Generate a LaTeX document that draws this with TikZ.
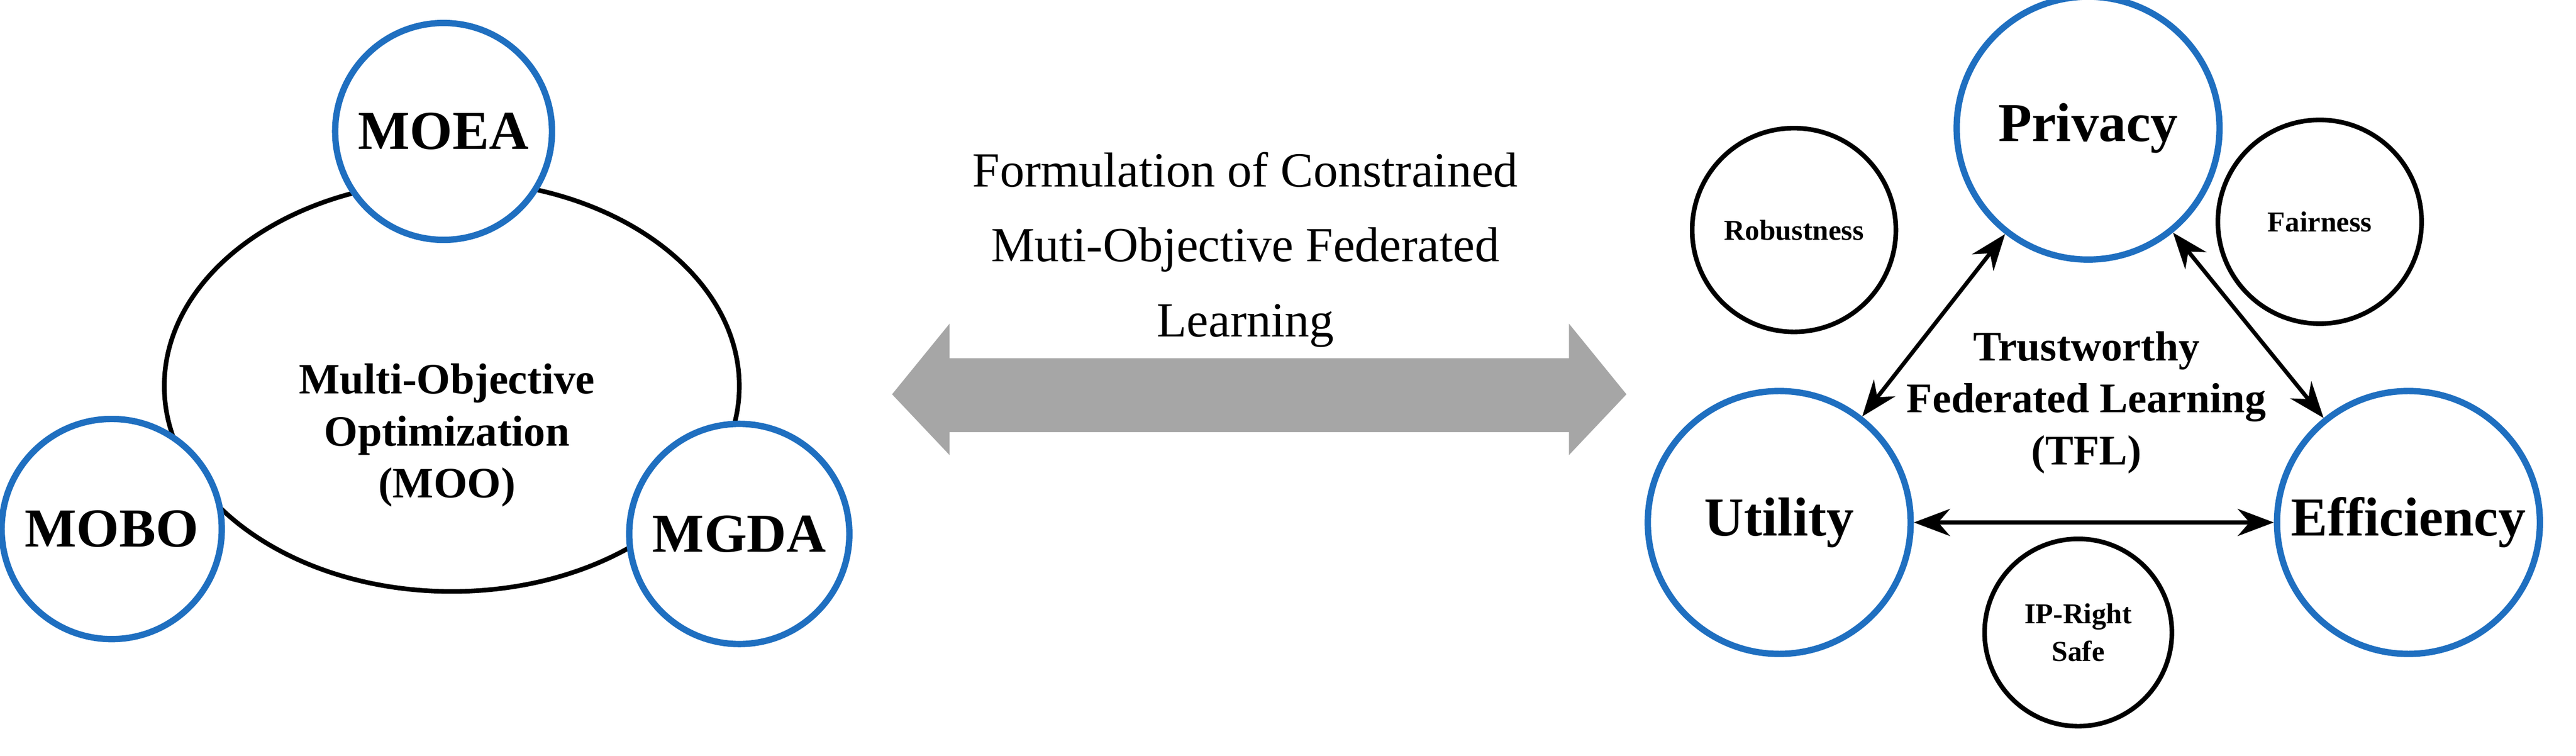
\documentclass[tikz,border=0pt]{standalone}
\usepackage{fontspec}
\setmainfont{Liberation Serif}
\usetikzlibrary{arrows.meta}
\definecolor{ringblue}{HTML}{1F6FC0}
\tikzset{
  bigcirc/.style={circle,draw=ringblue,line width=1.1pt,fill=white,inner sep=0pt,font=\bfseries\fontsize{9.5}{11}\selectfont},
  smallcirc/.style={circle,draw=black,line width=0.8pt,inner sep=0pt,align=center,font=\bfseries\fontsize{5}{6.5}\selectfont},
  link/.style={{Stealth[length=2.2mm]}-{Stealth[length=2.2mm]},line width=0.7pt}
}
\begin{document}
\begin{tikzpicture}
  \useasboundingbox (0,0) rectangle (15.68,4.6);
  % left: MOO
  \draw[line width=0.8pt] (2.75,2.25) ellipse (1.75 and 1.25);
  \node[align=center,font=\bfseries\fontsize{7.5}{9}\selectfont] (moo) at (2.72,1.95) {Multi-Objective\\Optimization\\(MOO)};
  \node[bigcirc,minimum size=1.32cm] (moea) at (2.70,3.80) {MOEA};
  \node[bigcirc,minimum size=1.34cm] (mobo) at (0.68,1.38) {MOBO};
  \node[bigcirc,minimum size=1.34cm] (mgda) at (4.50,1.35) {MGDA};
  % middle arrow
  \fill[black!35] (5.43,2.20) -- (5.78,2.63) -- (5.78,2.42) -- (9.55,2.42) -- (9.55,2.63)
    -- (9.90,2.20) -- (9.55,1.83) -- (9.55,1.97) -- (5.78,1.97) -- (5.78,1.83) -- cycle;
  \node[align=center,font=\fontsize{8.5}{13}\selectfont] (formtxt) at (7.58,3.08)
    {Formulation of Constrained\\Muti-Objective Federated\\Learning};
  % right: TFL
  \node[bigcirc,minimum size=1.60cm] (privacy) at (12.71,3.82) {Privacy};
  \node[bigcirc,minimum size=1.60cm] (utility) at (10.83,1.42) {Utility};
  \node[bigcirc,minimum size=1.60cm] (efficiency) at (14.66,1.42) {Efficiency};
  \node[smallcirc,minimum size=1.24cm] (robust) at (10.92,3.20) {Robustness};
  \node[smallcirc,minimum size=1.24cm] (fair) at (14.12,3.25) {Fairness};
  \node[smallcirc,minimum size=1.14cm] (ipsafe) at (12.65,0.75) {IP-Right\\Safe};
  \node[align=center,font=\bfseries\fontsize{7.3}{9}\selectfont] (tfl) at (12.70,2.15)
    {Trustworthy\\Federated Learning\\(TFL)};
  \draw[link] (utility) -- (privacy);
  \draw[link] (privacy) -- (efficiency);
  \draw[link] (utility) -- (efficiency);
\end{tikzpicture}
\end{document}
